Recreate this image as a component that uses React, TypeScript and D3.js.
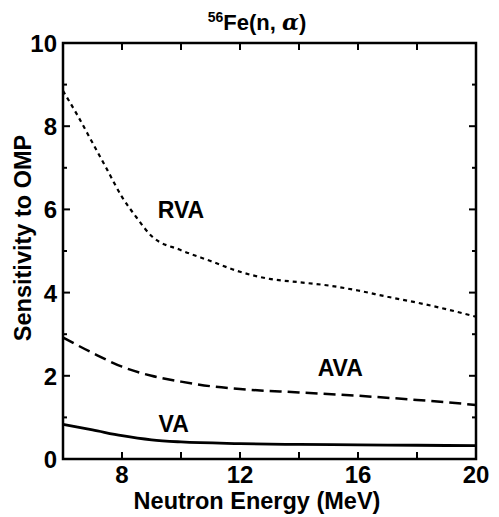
import React from "react";
import * as d3 from "d3";

const energies = [6, 6.5, 7, 7.5, 8, 8.5, 9, 10, 11, 12, 13, 14, 15, 16, 17, 18, 19, 20];
const rva = [8.85, 8.25, 7.6, 6.95, 6.3, 5.8, 5.36, 5.02, 4.76, 4.5, 4.33, 4.25, 4.17, 4.05, 3.9, 3.76, 3.6, 3.42];
const avaE = [6, 7, 8, 9, 10, 11, 12, 14, 16, 18, 20];
const ava = [2.92, 2.55, 2.22, 2.0, 1.86, 1.75, 1.68, 1.6, 1.52, 1.42, 1.3];
const vaE = [6, 7, 8, 9, 10, 12, 14, 16, 18, 20];
const va = [0.83, 0.7, 0.56, 0.46, 0.41, 0.37, 0.35, 0.34, 0.33, 0.32];

const xMajor = [8, 12, 16, 20];
const xTicks = [8, 10, 12, 14, 16, 18];
const yMajor = [0, 2, 4, 6, 8, 10];
const yMinor = [1, 3, 5, 7, 9];

const series = [
  { name: "RVA", x: energies, y: rva, dash: "4,4", width: 2.2 },
  { name: "AVA", x: avaE, y: ava, dash: "12,6", width: 2.5 },
  { name: "VA", x: vaE, y: va, dash: "", width: 2.8 },
];

const labels = [
  { text: "RVA", x: 10.0, y: 5.8 },
  { text: "AVA", x: 15.4, y: 2.0 },
  { text: "VA", x: 9.75, y: 0.65 },
];

export default function App() {
  const W = 499, H = 517;
  const L = 63, R = 476, T = 43, B = 459;
  const x = d3.scaleLinear().domain([6, 20]).range([L, R]);
  const y = d3.scaleLinear().domain([0, 10]).range([B, T]);
  const font = "'Liberation Sans', Arial, Helvetica, sans-serif";

  return (
    <svg width={W} height={H} style={{ position: "absolute", left: 0, top: 0, background: "#fff" }} fontFamily={font}>
      <rect x={0} y={0} width={W} height={H} fill="#fff" />
      {series.map((s) => {
        const line = d3
          .line<number>()
          .x((_, i) => x(s.x[i]))
          .y((d) => y(d))
          .curve(d3.curveMonotoneX);
        return (
          <path key={s.name} d={line(s.y) || ""} fill="none" stroke="#000" strokeWidth={s.width}
            strokeDasharray={s.dash || undefined} />
        );
      })}
      <rect x={L} y={T} width={R - L} height={B - T} fill="none" stroke="#000" strokeWidth={2.5} />
      {xTicks.map((t) => (
        <g key={"xt" + t}>
          <line x1={x(t)} x2={x(t)} y1={B} y2={B - 7} stroke="#000" strokeWidth={2} />
          <line x1={x(t)} x2={x(t)} y1={T} y2={T + 7} stroke="#000" strokeWidth={2} />
        </g>
      ))}
      {yMajor.map((t) => (
        <g key={"ym" + t}>
          <line x1={L} x2={L + 7} y1={y(t)} y2={y(t)} stroke="#000" strokeWidth={2} />
          <line x1={R} x2={R - 7} y1={y(t)} y2={y(t)} stroke="#000" strokeWidth={2} />
        </g>
      ))}
      {yMinor.map((t) => (
        <g key={"yn" + t}>
          <line x1={L} x2={L + 4} y1={y(t)} y2={y(t)} stroke="#000" strokeWidth={2} />
          <line x1={R} x2={R - 4} y1={y(t)} y2={y(t)} stroke="#000" strokeWidth={2} />
        </g>
      ))}
      {xMajor.map((t) => (
        <text key={"xl" + t} x={x(t)} y={483} textAnchor="middle" fontSize={24} fontWeight="bold">{t}</text>
      ))}
      {yMajor.map((t) => (
        <text key={"yl" + t} x={57} y={y(t) + 9} textAnchor="end" fontSize={24} fontWeight="bold">{t}</text>
      ))}
      {labels.map((l) => (
        <text key={l.text} x={x(l.x)} y={y(l.y)} textAnchor="middle" fontSize={23} fontWeight="bold">{l.text}</text>
      ))}
      <text x={257} y={509} textAnchor="middle" fontSize={23.5} fontWeight="bold">Neutron Energy (MeV)</text>
      <text transform="translate(31,238) rotate(-90)" textAnchor="middle" fontSize={23.5} fontWeight="bold">Sensitivity to OMP</text>
      <text x={257} y={30} textAnchor="middle" fontSize={22} fontWeight="bold">
        <tspan fontSize={14} dy={-8}>56</tspan>
        <tspan dy={8}>Fe(n, </tspan>
        <tspan fontStyle="italic" fontFamily="'DejaVu Serif', serif">α</tspan>
        <tspan>)</tspan>
      </text>
    </svg>
  );
}
